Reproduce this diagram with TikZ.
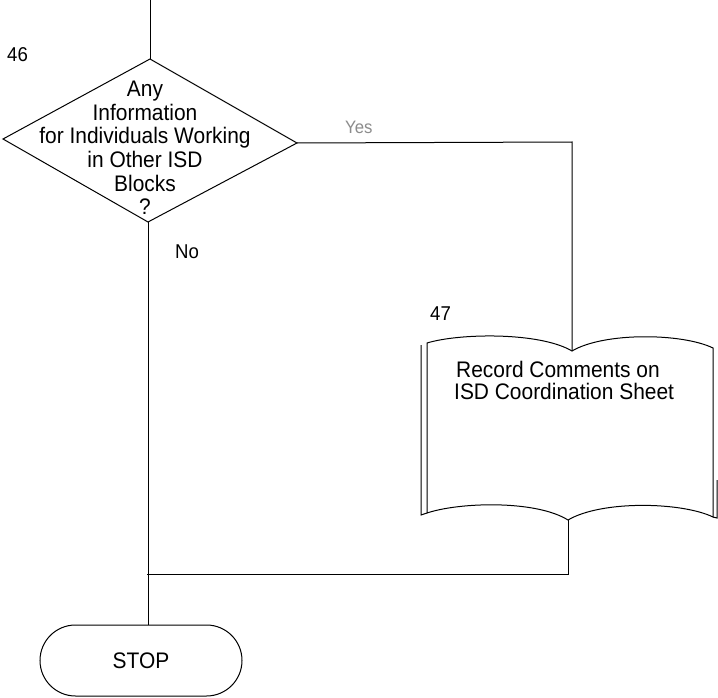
\documentclass[tikz,border=0pt]{standalone}
\usepackage{fontspec}
\setmainfont{Liberation Sans}
\newfontfamily\tallfont[FakeStretch=0.93]{Liberation Sans}
\begin{document}
\begin{tikzpicture}[x=1pt,y=-1pt,
  conn/.style={line width=1pt,line join=miter},
  shapeline/.style={line width=1pt},
  txt/.style={inner sep=0pt,font=\tallfont\fontsize{22.5}{23.6}\selectfont},
  lbl/.style={inner sep=0pt,font=\tallfont\fontsize{20}{22}\selectfont},
  stopbox/.style={draw,line width=1pt,rounded corners=35.5pt,minimum width=202pt,minimum height=71pt,inner sep=0pt,font=\tallfont\fontsize{22.5}{24}\selectfont}]
\useasboundingbox (0,0) rectangle (718,698);
% diamond 46
\coordinate (dtop) at (150,59);
\coordinate (dleft) at (3,139);
\coordinate (dright) at (297,143);
\coordinate (dbot) at (148,222);
\draw[shapeline] (dtop) -- (dright) -- (dbot) -- (dleft) -- cycle;
\node[txt,align=center] (dtext) at (145,148) {Any\\Information\\for Individuals Working\\in Other ISD\\Blocks\\?};
\node[lbl,anchor=base west] (n46) at (7,62) {46};
% book 47
\coordinate (btop) at (572,351);
\coordinate (bbot) at (568,520);
\draw[shapeline] (427,343) .. controls (460,333) and (540,332) .. (btop)
  .. controls (604,332) and (682,333) .. (713,348) -- (713,517)
  .. controls (682,502) and (602,500) .. (bbot)
  .. controls (536,500) and (460,502) .. (427,513) -- cycle;
\draw[shapeline] (421,345) -- (421,515) -- (427,513);
\draw[shapeline] (717,480) -- (717,518) -- (713,517);
\node[txt,align=left,anchor=base west] (btext) at (456,377) {Record Comments on};
\node[txt,align=left,anchor=base west] (btext2) at (454,399) {ISD Coordination Sheet};
\node[lbl,anchor=base west] (n47) at (430,320) {47};
% stop
\node[stopbox] (stop) at (141,660.5) {STOP};
% connectors
\coordinate (entry) at (150,0);
\coordinate (yescorner) at (572,142);
\coordinate (retcorner) at (568,574);
\coordinate (join) at (147,574);
\draw[conn] (entry) -- (dtop);
\draw[conn] (dright) -- (yescorner) -- (btop);
\draw[conn] (dbot) -- (dbot |- stop.north);
\draw[conn] (bbot) -- (retcorner) -- (join);
\node[lbl,anchor=base west,text=black!45,font=\tallfont\fontsize{18}{20}\selectfont] (yes) at (345,134) {Yes};
\node[lbl,anchor=base west] (no) at (175,258) {No};
\end{tikzpicture}
\end{document}
